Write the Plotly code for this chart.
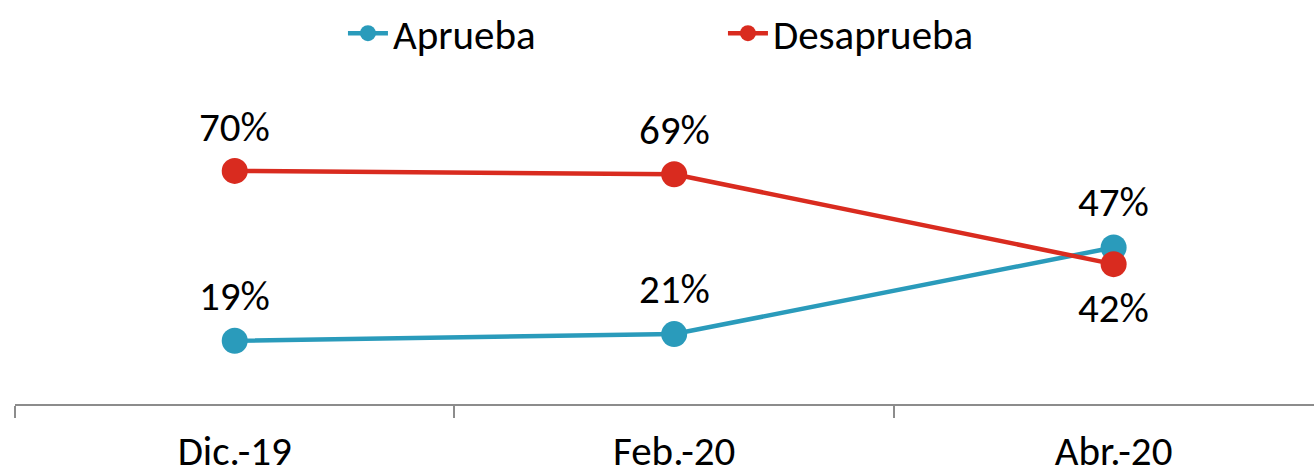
import plotly.graph_objects as go

categories = ["Dic.-19", "Feb.-20", "Abr.-20"]
aprueba = [19, 21, 47]
desaprueba = [70, 69, 42]
desaprueba_label_side = [1, 1, -1]  # 1 = above point, -1 = below point

blue = "#2A9BBB"
red = "#D92B1F"
font_family = "Carlito, Calibri, Lato, sans-serif"
fs = 41

fig = go.Figure()
fig.add_trace(go.Scatter(
    x=categories, y=aprueba, name="Aprueba", mode="lines+markers",
    line=dict(color=blue, width=4.5), marker=dict(color=blue, size=26),
))
fig.add_trace(go.Scatter(
    x=categories, y=desaprueba, name="Desaprueba", mode="lines+markers",
    line=dict(color=red, width=4.5), marker=dict(color=red, size=26),
))

for c, v in zip(categories, aprueba):
    fig.add_annotation(x=c, y=v, text=f"{v}%", showarrow=False, yshift=45,
                       yanchor="middle", font=dict(size=fs, color="#000000", family=font_family))
for c, v, s in zip(categories, desaprueba, desaprueba_label_side):
    fig.add_annotation(x=c, y=v, text=f"{v}%", showarrow=False, yshift=44 * s,
                       yanchor="middle", font=dict(size=fs, color="#000000", family=font_family))

fig.update_layout(
    width=1314, height=476,
    margin=dict(l=15, r=0, t=71, b=72, autoexpand=False),
    paper_bgcolor="white", plot_bgcolor="white",
    font=dict(family=font_family, size=fs, color="#000000"),
    showlegend=True,
    legend=dict(orientation="h", x=0.545, xanchor="center", y=1.0, yref="container",
                yanchor="top", font=dict(size=fs), itemwidth=40,
                traceorder="normal", entrywidth=325, entrywidthmode="pixels"),
    xaxis=dict(type="category", range=[-0.5, 2.456], showline=True,
               linecolor="#8C8C8C", linewidth=1.5, ticks="outside", ticklen=12,
               tickcolor="#8C8C8C", tickwidth=1.5, tickson="boundaries",
               showgrid=False, tickfont=dict(size=fs), zeroline=False,
               ticklabelstandoff=10, automargin=False),
    yaxis=dict(range=[0, 100], visible=False, showgrid=False, zeroline=False),
)

fig.write_html("out.html", post_script="document.body.style.margin='0';",
               config={"displayModeBar": False})
